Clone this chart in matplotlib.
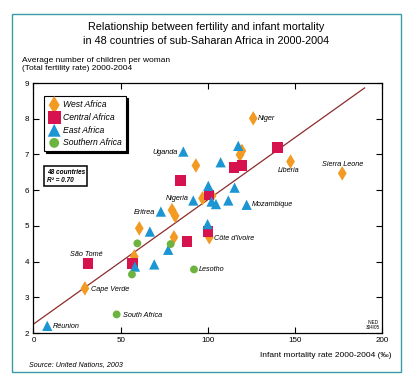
import matplotlib
matplotlib.use("Agg")
from matplotlib import pyplot as plt
from matplotlib.patches import Rectangle

# 数据: 婴儿死亡率 (‰) 与 总和生育率
west_x = [29.5, 57.8, 60.7, 80.6, 79.5, 81.3, 100.9, 97.0, 102.5, 93.2, 126.1, 119.6, 118.5, 147.5, 177.2]
west_y = [3.25, 4.14, 4.93, 4.68, 5.44, 5.28, 4.68, 5.77, 5.84, 6.69, 8.01, 7.10, 6.99, 6.80, 6.47]

central_x = [31.4, 56.9, 87.9, 100.3, 100.9, 84.4, 115.2, 119.8, 140.1]
central_y = [3.95, 3.95, 4.56, 4.84, 5.87, 6.27, 6.63, 6.69, 7.19]

east_x = [7.9, 58.2, 69.3, 77.3, 66.8, 99.9, 73.1, 91.7, 102.2, 104.7, 111.8, 122.3, 100.3, 115.4, 107.4, 86.0, 117.5]
east_y = [2.20, 3.86, 3.92, 4.33, 4.84, 5.05, 5.40, 5.71, 5.68, 5.61, 5.71, 5.59, 6.12, 6.07, 6.78, 7.08, 7.24]

south_x = [59.6, 78.7, 56.5, 92.1, 47.7]
south_y = [4.51, 4.49, 3.64, 3.78, 2.52]

# 回归直线 y = a + b*x
fit_a, fit_b = 2.25, 0.0348
fit_x = [0, 190]

# 国家标注
names = ["Uganda", "Niger", "Liberia", "Sierra Leone", "Nigeria", "Eritrea", "Mozambique",
         "Côte d'Ivoire", "São Tomé", "Cape Verde", "South Africa", "Lesotho", "Réunion"]
name_x = [86.0, 126.1, 147.5, 177.2, 97.0, 73.1, 122.3, 100.9, 31.4, 29.5, 47.7, 92.1, 7.9]
name_y = [7.08, 8.01, 6.80, 6.47, 5.77, 5.40, 5.59, 4.68, 3.95, 3.25, 2.52, 3.78, 2.20]

xticks = [0, 50, 100, 150, 200]
yticks = [2, 3, 4, 5, 6, 7, 8, 9]

orange = '#F39A22'
red = '#D6124F'
blue = '#1C95D3'
green = '#6DB33F'
teal = '#3A9BA8'

plt.rcParams['font.family'] = ['Liberation Sans', 'DejaVu Sans']

W, H = 406, 379
fig = plt.figure(figsize=(W / 100, H / 100), dpi=100)
fig.patch.set_facecolor('white')

# 外框
fig.add_artist(Rectangle((12 / W, 1 - 372 / H), (401 - 12) / W, (372 - 14) / H,
                         transform=fig.transFigure, fill=False, edgecolor=teal, linewidth=1.0))

ax = fig.add_axes([33.5 / W, 1 - 333 / H, (382 - 33.5) / W, (333 - 83) / H])
ax.set_xlim(0, 200)
ax.set_ylim(2, 9)
ax.set_xticks(xticks)
ax.set_yticks(yticks)
ax.tick_params(direction='in', length=4, width=0.8, labelsize=5.8, pad=3,
               top=True, right=True)
for s in ax.spines.values():
    s.set_linewidth(0.9)

ax.plot(fit_x, [fit_a + fit_b * v for v in fit_x], color='#8E2B2B', linewidth=0.9, zorder=2)

ax.scatter(west_x, west_y, marker='d', s=55, color=orange, edgecolors='none', zorder=3, label='West Africa')
ax.scatter(central_x, central_y, marker='s', s=55, color=red, edgecolors='none', zorder=3, label='Central Africa')
ax.scatter(east_x, east_y, marker='^', s=55, color=blue, edgecolors='none', zorder=3, label='East Africa')
ax.scatter(south_x, south_y, marker='o', s=32, color=green, edgecolors='none', zorder=3, label='Southern Africa')

# 标注偏移 (像素)
offsets = {
    "Uganda": (-6, -1, 'right'), "Niger": (5, 0, 'left'), "Liberia": (-2, -9, 'center'),
    "Sierra Leone": (0, 9, 'center'), "Nigeria": (-14, 0, 'right'), "Eritrea": (-5.5, -1, 'right'),
    "Mozambique": (5.5, 0, 'left'), "Côte d'Ivoire": (4.5, -1, 'left'), "São Tomé": (-2, 9, 'center'),
    "Cape Verde": (6.5, -1.5, 'left'), "South Africa": (6, -1, 'left'), "Lesotho": (5, 0, 'left'),
    "Réunion": (6, -0.7, 'left'),
}
for n, x, y in zip(names, name_x, name_y):
    dx, dy, ha = offsets[n]
    ax.annotate(n, (x, y), xytext=(dx, dy), textcoords='offset pixels',
                ha=ha, va='center', fontsize=5.2, style='italic', zorder=4)

leg = ax.legend(loc='upper left', bbox_to_anchor=(0.031, 0.948), borderaxespad=0,
                frameon=True, fancybox=False, edgecolor='black',
                prop={'style': 'italic', 'size': 6.2}, handletextpad=0.4,
                borderpad=0.5, labelspacing=0.42, handlelength=1.3, markerscale=1.25,
                shadow={'color': 'black', 'alpha': 1, 'ox': 1.2, 'oy': -1.2})
leg.get_frame().set_linewidth(0.8)

ax.text(0.038, 0.658, "48 countries\nR² = 0.70", transform=ax.transAxes, fontsize=4.7,
        style='italic', weight='bold', va='top', ha='left', linespacing=1.2,
        bbox=dict(boxstyle='square,pad=0.35', facecolor='white', edgecolor='black', linewidth=1.1))

ax.text(0.995, 0.012, "INED\n304/05", transform=ax.transAxes, fontsize=3.3,
        ha='right', va='bottom', multialignment='center', linespacing=1.0)

fig.text(206 / W, 1 - 34 / H, "Relationship between fertility and infant mortality\nin 48 countries of sub-Saharan Africa in 2000-2004",
         ha='center', va='center', fontsize=7.8, linespacing=1.45,
         family=['Liberation Sans Narrow', 'Liberation Sans', 'DejaVu Sans'])
fig.text(22 / W, 1 - 57 / H, "Average number of children per woman\n(Total fertility rate) 2000-2004",
         ha='left', va='top', fontsize=6.0, linespacing=1.25)
fig.text(391.7 / W, 1 - 355.7 / H, "Infant mortality rate 2000-2004 (‰)",
         ha='right', va='center', fontsize=6.0)
fig.text(29 / W, 1 - 364.3 / H, "Source: United Nations, 2003",
         ha='left', va='center', fontsize=5.1, style='italic')

fig.savefig("out.png", dpi=100)
